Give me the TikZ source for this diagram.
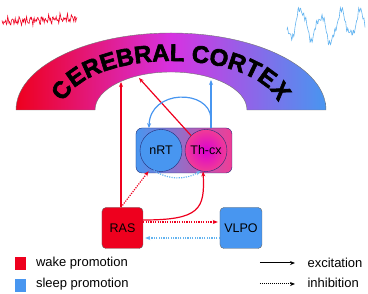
\documentclass[tikz,border=0pt]{standalone}
\usepackage{fontspec}
\setmainfont{Liberation Sans}
\newfontfamily\ctxfam[UprightFont={* Bold},FakeBold=2.5]{Liberation Sans}
\usetikzlibrary{arrows.meta,decorations.text}
\definecolor{wakered}{RGB}{238,0,30}
\definecolor{sleepblue}{RGB}{72,150,240}
\definecolor{eegblue}{RGB}{100,180,240}
\definecolor{ctxmid}{RGB}{215,50,225}
\definecolor{thpink}{RGB}{240,60,150}
\definecolor{thmag}{RGB}{220,0,210}
\definecolor{rimblue}{RGB}{35,45,120}
\newcommand{\ctxfont}{\ctxfam\fontsize{24}{24}\selectfont}
\newcommand{\lblfont}{\fontsize{12.5}{14}\selectfont}
\newcommand{\keyfont}{\fontsize{13}{15}\selectfont}

\begin{document}
\begin{tikzpicture}[x=1pt,y=1pt,
  area/.style={draw=black!60,rounded corners=4pt,minimum width=41pt,minimum height=41pt,inner sep=0pt,font=\lblfont},
  nuc/.style={circle,draw=rimblue,minimum size=42pt,inner sep=0pt,font=\lblfont},
  exc/.style={-{Stealth[length=5pt,width=4pt]},line width=1.2pt},
  inh/.style={exc,dash pattern=on 1.2pt off 1.2pt},
  keysq/.style={minimum width=11pt,minimum height=13pt,inner sep=0pt},
  keytext/.style={anchor=base west,font=\keyfont}]
  \useasboundingbox (0,0) rectangle (368,294);

  \draw[wakered,line width=0.6pt] plot[domain=2:77,samples=120]
    (\x,{274+2*sin(97*\x)+1.8*sin(193*\x+40)+1.2*sin(151*\x)+1.5*sin(61*\x)+0.05*(\x-40)});
  \draw[eegblue,line width=0.6pt] plot[domain=287:365,samples=150]
    (\x,{268+13*cos(18*(\x-301))+4*sin(7*(\x-287))+3*sin(41*(\x-287))+2*sin(137*(\x-287))+1.2*sin(197*(\x-287)+20)});

  \shadedraw[left color=wakered,right color=sleepblue,middle color=ctxmid,draw=black!55,thin]
    (16,184) arc[start angle=180,end angle=0,x radius=155,y radius=77]
    -- (247,184) arc[start angle=0,end angle=180,x radius=76,y radius=38] -- cycle;
  \path[decorate,decoration={text along path,text align=center,text={|\ctxfont|CEREBRAL CORTEX}}]
    (171,184) ++(170:108 and 49) arc[start angle=170,end angle=10,x radius=108,y radius=49];

  \coordinate (ctxA) at (121,212);
  \coordinate (ctxB) at (139,216);
  \coordinate (ctxC) at (211,214);
  \coordinate (branch) at (211,176);

  \node[draw=rimblue,rounded corners=6pt,left color=sleepblue,right color=thpink,
    minimum width=96pt,minimum height=45pt] (thal) at (184,143.5) {};
  \node[nuc,fill=sleepblue] (nrt) at (161,143.5) {nRT};
  \node[nuc,inner color=thmag,outer color=thpink] (thcx) at (206,143.5) {Th-cx};
  \node[area,fill=wakered] (ras) at (122.5,66) {RAS};
  \node[area,fill=sleepblue,minimum width=42pt] (vlpo) at (241,66) {VLPO};

  \draw[exc,wakered] (ctxA |- ras.north) -- (ctxA);
  \draw[exc,wakered] (thcx.135) -- (ctxB);
  \draw[exc,sleepblue] (thal.north -| ctxC) -- (ctxC);
  \draw[exc,sleepblue,shorten >=5pt] (branch) .. controls (209,205) and (150,205) .. (nrt.125);
  \draw[inh,eegblue] (nrt.-110) .. controls (168,114) and (186,114) .. (thcx.-105);
  \draw[inh,wakered,shorten >=3pt] (ctxA |- ras.north) -- (nrt.-120);
  \draw[exc,wakered] ([yshift=8pt]ras.east) .. controls (200,74) and (205,85) .. (thcx.-98);
  \draw[inh,wakered,shorten >=2pt] ([yshift=6pt]ras.east) -- ([yshift=6pt]vlpo.west);
  \draw[inh,eegblue,shorten >=2pt] ([yshift=-10pt]vlpo.west) -- ([yshift=-10pt]ras.east);

  \node[keysq,fill=wakered] (sqwake) at (20.5,30.5) {};
  \node[keytext] (txtwake) at (32.5,27) {wake promotion};
  \node[keysq,fill=sleepblue] (sqsleep) at (20.5,8) {};
  \node[keytext] (txtsleep) at (32.5,6) {sleep promotion};
  \coordinate (excA) at (260,31);
  \coordinate (excB) at (295,31);
  \coordinate (inhA) at (260,10);
  \coordinate (inhB) at (295,10);
  \draw[-{Stealth[length=5pt,width=4pt]},line width=1pt] (excA) -- (excB);
  \draw[-{Stealth[length=5pt,width=4pt]},line width=1pt,dash pattern=on 1pt off 1pt] (inhA) -- (inhB);
  \node[keytext] (txtexc) at (304,26.5) {excitation};
  \node[keytext] (txtinh) at (304,6) {inhibition};
\end{tikzpicture}
\end{document}
